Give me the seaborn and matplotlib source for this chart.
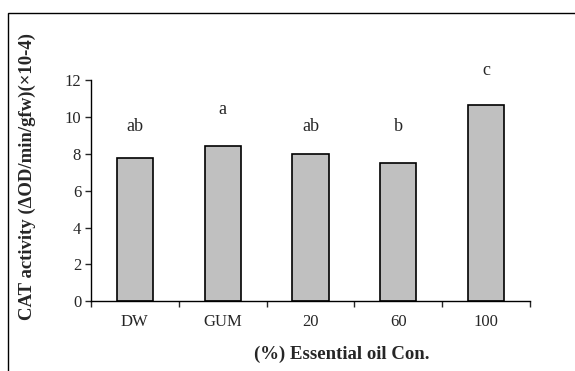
import numpy as np
import pandas as pd
import matplotlib
matplotlib.use("Agg")
import matplotlib.pyplot as plt
import seaborn as sns
from matplotlib.patches import Rectangle

# data
treatments = ["DW", "GUM", "20", "60", "100"]
cat_activity = [7.8, 8.44, 8.0, 7.52, 10.64]
letters = ["ab", "a", "ab", "b", "c"]
letter_y = [9.5, 10.4, 9.5, 9.5, 12.5]
y_ticks = [0, 2, 4, 6, 8, 10, 12]

df = pd.DataFrame({"treatment": treatments, "cat": cat_activity})

sns.set_style("white")
plt.rcParams["font.family"] = ["Liberation Serif", "DejaVu Serif"]

fig = plt.figure(figsize=(5.75, 3.71), dpi=100)
ax = fig.add_axes([0.158, 0.188, 0.764, 0.596])

sns.barplot(data=df, x="treatment", y="cat", color="#c0c0c0", saturation=1,
            edgecolor="black", linewidth=1.2, width=0.41, ax=ax)

# significance letters
for i, (lab, yy) in enumerate(zip(letters, letter_y)):
    ax.text(i, yy, lab, ha="center", va="center", fontsize=13, clip_on=False)

ax.set_xlim(-0.5, 4.5)
ax.set_ylim(0, 12)
ax.set_yticks(y_ticks)
ax.tick_params(axis="y", direction="out", length=4, width=1, labelsize=12, pad=3, left=True)

# tick marks between categories, labels centred under bars
ax.set_xticks(np.arange(len(treatments)))
ax.set_xticklabels(treatments)
ax.tick_params(axis="x", which="major", length=0, labelsize=12, pad=9)
ax.set_xticks(np.arange(-0.5, len(treatments)), minor=True)
ax.tick_params(axis="x", which="minor", direction="out", length=4, width=1, bottom=True)

for side in ["top", "right"]:
    ax.spines[side].set_visible(False)
for side in ["left", "bottom"]:
    ax.spines[side].set_color("black")
    ax.spines[side].set_linewidth(1)

ax.set_xlabel("(%) Essential oil Con.", fontsize=13.5, fontweight="bold")
ax.xaxis.set_label_coords(0.57, -0.2)
ax.set_ylabel("CAT activity (ΔOD/min/gfw)(×10-4)", fontsize=13.5, fontweight="bold")
ax.yaxis.set_label_coords(-0.125, 0.562)

# outer frame, open to the right and bottom like the cropped original
fig.patches.append(Rectangle((8 / 575, -0.1), 1.2, 1 - 13.3 / 371 + 0.1,
                             transform=fig.transFigure, fill=False,
                             edgecolor="black", linewidth=1.0))

fig.savefig("out.png", dpi=100)
